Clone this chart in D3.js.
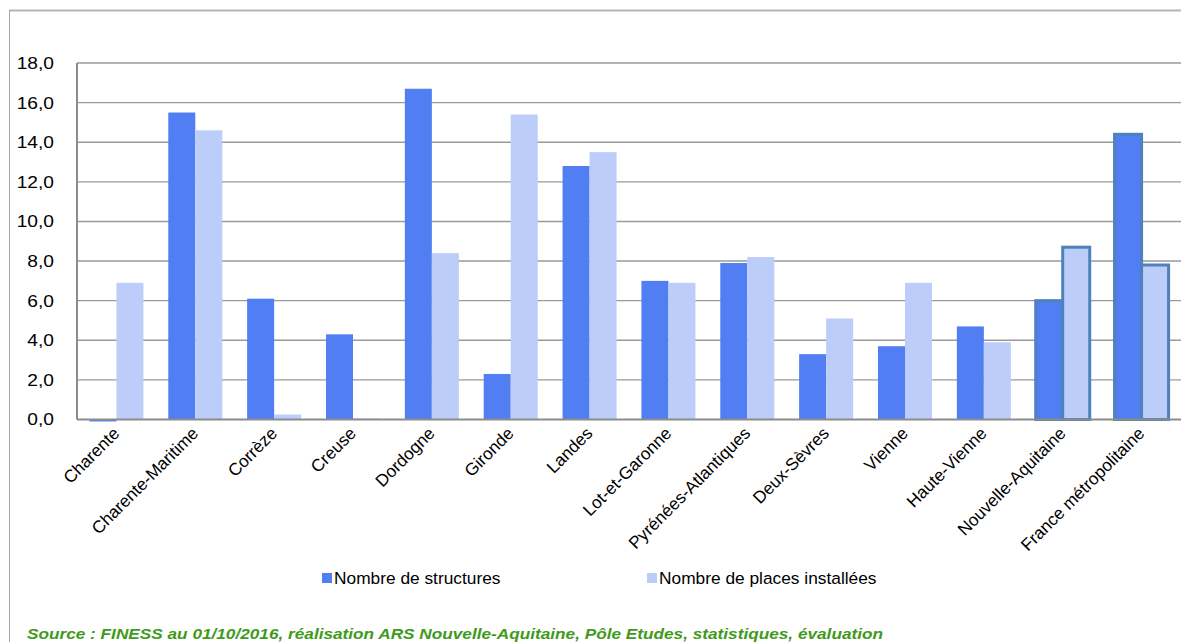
<!DOCTYPE html>
<html><head><meta charset="utf-8">
<script src="https://cdn.jsdelivr.net/npm/d3@7"></script>
<style>
html,body{margin:0;padding:0;background:#fff;}
svg{display:block;font-family:Arial,"Liberation Sans",sans-serif;}
</style></head>
<body>
<svg id="chart" width="1181" height="642"></svg>
<script>
const categories = ["Charente","Charente-Maritime","Corrèze","Creuse","Dordogne","Gironde","Landes","Lot-et-Garonne","Pyrénées-Atlantiques","Deux-Sèvres","Vienne","Haute-Vienne","Nouvelle-Aquitaine","France métropolitaine"];
const structures = [-0.1,15.5,6.1,4.3,16.7,2.3,12.8,7.0,7.9,3.3,3.7,4.7,6.0,14.4];
const places = [6.9,14.6,0.25,0.05,8.4,15.4,13.5,6.9,8.2,5.1,6.9,3.9,8.7,7.8];
const seriesNames = ["Nombre de structures","Nombre de places installées"];
const seriesColors = ["#517ef2","#bdcdfa"];
const highlighted = ["Nouvelle-Aquitaine","France métropolitaine"];
const yTicks = [0,2,4,6,8,10,12,14,16,18];
const sourceText = "Source : FINESS au 01/10/2016, réalisation ARS Nouvelle-Aquitaine, Pôle Etudes, statistiques, évaluation";

(function(){
const svg = d3.select("#chart");
const pL = 77, pR = 1181, pT = 63, pB = 419.5;
const sx = 1.13; // horizontal stretch of the reference text

// outer frame
svg.append("line").attr("x1",9).attr("x2",1181).attr("y1",10.5).attr("y2",10.5).attr("stroke","#b5b5b5").attr("stroke-width",2);
svg.append("line").attr("x1",9.5).attr("x2",9.5).attr("y1",10).attr("y2",642).attr("stroke","#a8a8a8").attr("stroke-width",1);

const x0 = d3.scaleBand().domain(categories).range([pL,pR]).paddingInner(0.315).paddingOuter(0.1575);
const x1 = d3.scaleBand().domain([0,1]).range([0,x0.bandwidth()]);
const y = d3.scaleLinear().domain([0,18]).range([pB,pT]);

// gridlines
svg.append("g").selectAll("line").data(yTicks.filter(d=>d>0)).join("line")
  .attr("x1",pL).attr("x2",pR).attr("y1",d=>y(d)).attr("y2",d=>y(d))
  .attr("stroke","#9a9a9a").attr("stroke-width",1.4);

// y axis labels
const yAxis = d3.axisLeft(y).tickValues(yTicks).tickSize(0).tickPadding(0)
  .tickFormat(d=>d.toFixed(1).replace(".",","));
const ga = svg.append("g").attr("transform",`translate(${pL-23},0)`).call(yAxis);
ga.select(".domain").remove();
ga.selectAll(".tick text").attr("font-size",17).attr("fill","#000")
  .attr("font-family","Arial, 'Liberation Sans', sans-serif")
  .attr("x",0).attr("transform",`scale(${sx},1)`);

// bars
const rows = categories.map((c,i)=>({cat:c, vals:[structures[i],places[i]]}));
const groups = svg.append("g").selectAll("g").data(rows).join("g")
  .attr("transform",d=>`translate(${x0(d.cat)},0)`);
groups.selectAll("rect").data(d=>d.vals.map((v,k)=>({v,k,cat:d.cat}))).join("rect")
  .attr("x",d=>x1(d.k)).attr("width",x1.bandwidth())
  .attr("y",d=>y(Math.max(0,d.v))).attr("height",d=>Math.abs(y(d.v)-y(0)))
  .attr("fill",d=>seriesColors[d.k])
  .attr("stroke",d=>highlighted.includes(d.cat)?"#4f81bd":"none")
  .attr("stroke-width",3);

// axes lines
svg.append("line").attr("x1",pL).attr("x2",pL).attr("y1",pT).attr("y2",pB)
  .attr("stroke","#8c8c8c").attr("stroke-width",2);
svg.append("line").attr("x1",pL).attr("x2",pR).attr("y1",pB).attr("y2",pB)
  .attr("stroke","#8c8c8c").attr("stroke-width",2);

// x labels
svg.append("g").selectAll("text").data(categories).join("text")
  .attr("transform",d=>`translate(${x0(d)+x0.bandwidth()/2+4},${pB+15}) rotate(-45)`)
  .attr("text-anchor","end").attr("font-size",17.2).attr("fill","#000")
  .text(d=>d);

// legend
const legX = [322,647];
const leg = svg.append("g").selectAll("g").data(seriesNames).join("g")
  .attr("transform",(d,i)=>`translate(${legX[i]},578)`);
leg.append("rect").attr("x",0).attr("y",-5).attr("width",10).attr("height",10).attr("fill",(d,i)=>seriesColors[i]);
leg.append("text").attr("transform","translate(12,6) scale(1.05,1)").attr("font-size",16.5).attr("fill","#000").text(d=>d);

// source
svg.append("text").attr("x",27).attr("y",639).attr("font-size",15.5).attr("font-weight","bold")
  .attr("font-style","italic").attr("fill","#3f9a1c")
  .attr("textLength",856).attr("lengthAdjust","spacingAndGlyphs").text(sourceText);
})();
</script>
</body></html>
